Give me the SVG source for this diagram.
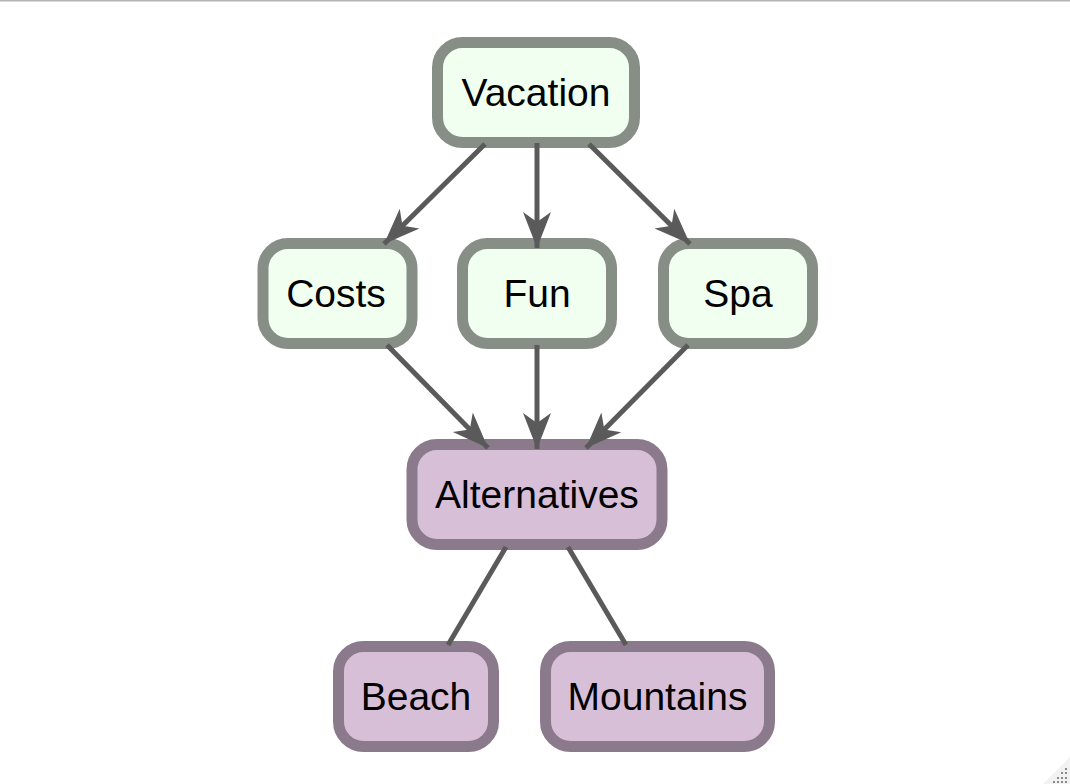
<svg xmlns="http://www.w3.org/2000/svg" width="1070" height="784" viewBox="0 0 1070 784">
<style>
.n rect{stroke-width:11}
.g rect{fill:#F0FFF0;stroke:#868E86}
.p rect{fill:#D8BFD8;stroke:#8B7A8B}
.n text{font-family:"Liberation Sans",Arial,sans-serif;font-size:39px;fill:#000;text-anchor:middle}
#edges line{stroke:#5A5A5A;stroke-width:5;fill:none}
</style>
<defs>
<marker id="ah" markerUnits="userSpaceOnUse" markerWidth="40" markerHeight="32" refX="36" refY="15" orient="auto" viewBox="0 0 40 30">
<path d="M36,15 L0,1 L10,15 L0,29 Z" fill="#5A5A5A"/>
</marker>
</defs>
<rect x="0" y="0" width="1070" height="784" fill="#fff"/>
<rect x="0" y="0" width="1070" height="1.5" fill="#B4B4B4"/>
<g id="grip">
<polygon points="1043,784 1070,757 1070,784" fill="#F2F2F2"/>
<g fill="#8A8A8A">
<rect x="1065" y="768" width="2" height="2"/>
<rect x="1061" y="772" width="2" height="2"/><rect x="1065" y="772" width="2" height="2"/>
<rect x="1057" y="777" width="2" height="2"/><rect x="1061" y="777" width="2" height="2"/><rect x="1065" y="777" width="2" height="2"/>
<rect x="1053" y="781" width="2" height="2"/><rect x="1057" y="781" width="2" height="2"/><rect x="1061" y="781" width="2" height="2"/><rect x="1065" y="781" width="2" height="2"/>
</g>
</g>
<g id="n-vacation" class="n g"><rect x="437.5" y="42.5" width="197" height="100" rx="25"/><text x="536" y="106">Vacation</text></g>
<g id="n-costs" class="n g"><rect x="263" y="243.5" width="149" height="100" rx="25"/><text x="336" y="307">Costs</text></g>
<g id="n-fun" class="n g"><rect x="462.5" y="243.5" width="149" height="100" rx="25"/><text x="537" y="307">Fun</text></g>
<g id="n-spa" class="n g"><rect x="663.5" y="243.5" width="149" height="100" rx="25"/><text x="738" y="307">Spa</text></g>
<g id="n-alternatives" class="n p"><rect x="412" y="444.5" width="250" height="100" rx="25"/><text x="537" y="508">Alternatives</text></g>
<g id="n-beach" class="n p"><rect x="338.5" y="646.5" width="155" height="100" rx="25"/><text x="416" y="710">Beach</text></g>
<g id="n-mountains" class="n p"><rect x="545.5" y="646.5" width="224" height="100" rx="25"/><text x="657.5" y="710">Mountains</text></g>
<g id="edges">
<line x1="485" y1="144" x2="384" y2="244" marker-end="url(#ah)"/>
<line x1="537" y1="143" x2="537" y2="248" marker-end="url(#ah)"/>
<line x1="589" y1="144" x2="690" y2="244" marker-end="url(#ah)"/>
<line x1="387" y1="345" x2="488" y2="448" marker-end="url(#ah)"/>
<line x1="537" y1="345" x2="537" y2="449" marker-end="url(#ah)"/>
<line x1="688" y1="345" x2="586" y2="448" marker-end="url(#ah)"/>
<line x1="506" y1="547" x2="448" y2="645"/>
<line x1="568" y1="547" x2="626" y2="645"/>
</g>
</svg>
